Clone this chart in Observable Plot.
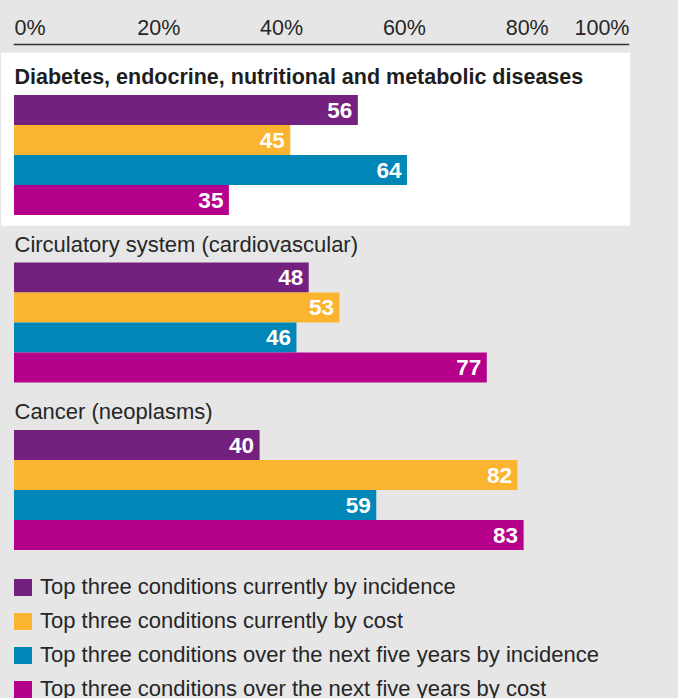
<!DOCTYPE html>
<html><head><meta charset="utf-8">
<script src="https://cdn.jsdelivr.net/npm/d3@7"></script>
<script src="https://cdn.jsdelivr.net/npm/@observablehq/plot@0.6"></script>
<style>
html,body{margin:0;padding:0;background:#e6e6e6;}
#chart{width:678px;font-family:"Liberation Sans",Arial,sans-serif;}
#chart svg{display:block;}
.lg-swatches-columns .lg-swatch{height:34px !important;padding-bottom:0 !important;}
.lg-swatch svg{margin-right:8px !important;}
</style></head><body><div id="chart"></div>
<script>
const categories = [
  "Diabetes, endocrine, nutritional and metabolic diseases",
  "Circulatory system (cardiovascular)",
  "Cancer (neoplasms)"
];
const seriesNames = [
  "Top three conditions currently by incidence",
  "Top three conditions currently by cost",
  "Top three conditions over the next five years by incidence",
  "Top three conditions over the next five years by cost"
];
const seriesColors = ["#74207f", "#fbb430", "#0086b7", "#b4008a"];
const diabetesValues = [56, 45, 64, 35];
const circulatoryValues = [48, 53, 46, 77];
const cancerValues = [40, 82, 59, 83];
const xTicks = [0, 20, 40, 60, 80, 100];

const valuesByCategory = [diabetesValues, circulatoryValues, cancerValues];
const data = categories.flatMap((c, i) =>
  seriesNames.map((s, j) => ({category: c, series: s, value: valuesByCategory[i][j]}))
);

const FONT = '"Liberation Sans", Arial, sans-serif';
const TEXT = "#262626";

const axisPlot = Plot.plot({
  width: 678, height: 52,
  marginLeft: 14, marginRight: 50, marginTop: 44, marginBottom: 7,
  style: {background: "transparent", fontFamily: FONT, fontSize: "21.5px", color: TEXT, overflow: "visible"},
  x: {domain: [0, 100], axis: null},
  y: {axis: null},
  marks: [
    Plot.axisX({ticks: xTicks.slice(0, -1), anchor: "top", tickSize: 0, tickPadding: 10,
      textAnchor: "start", tickFormat: d => d + "%", fontSize: 21.5, fill: TEXT}),
    Plot.axisX({ticks: xTicks.slice(-1), anchor: "top", tickSize: 0, tickPadding: 10,
      textAnchor: "end", dx: 1, tickFormat: d => d + "%", fontSize: 21.5, fill: TEXT}),
    Plot.frame({anchor: "top", stroke: "#333", strokeWidth: 1.5})
  ]
});

const mainPlot = Plot.plot({
  width: 678, height: 518,
  marginLeft: 14, marginRight: 50, marginTop: 3, marginBottom: 12.5,
  style: {background: "transparent", fontFamily: FONT, overflow: "visible"},
  facet: {marginTop: 0, marginBottom: 0, marginLeft: 0, marginRight: 0},
  x: {domain: [0, 100], axis: null},
  fy: {domain: categories, paddingInner: 0, paddingOuter: 0, round: false, axis: null},
  y: {domain: seriesNames, paddingInner: 0, paddingOuter: 0, round: false, insetTop: 40, insetBottom: 7.5, axis: null},
  color: {domain: seriesNames, range: seriesColors},
  marks: [
    Plot.rect(categories.slice(0, 1), {fy: d => d, fill: "white",
      insetTop: -2.3, insetBottom: -3.2, insetLeft: -13, insetRight: -2}),
    Plot.barX(data, {fy: "category", y: "series", x: "value", fill: "series"}),
    Plot.text(data, {fy: "category", y: "series", x: "value", text: d => String(d.value),
      textAnchor: "end", dx: -6, fill: "white", fontWeight: "bold", fontSize: 22.5}),
    Plot.text(categories.slice(0, 1), {fy: d => d, text: d => d, frameAnchor: "top-left",
      textAnchor: "start", lineAnchor: "bottom", dy: 28.5, fontSize: 21.5, fontWeight: "bold", fill: "#1e1e1e"}),
    Plot.text(categories.slice(1), {fy: d => d, text: d => d, frameAnchor: "top-left",
      textAnchor: "start", lineAnchor: "bottom", dy: 28.5, fontSize: 22, fill: TEXT})
  ]
});

const legend = Plot.legend({
  color: {domain: seriesNames, range: seriesColors},
  columns: 1, swatchWidth: 18, swatchHeight: 17, className: "lg",
  style: {fontFamily: FONT, fontSize: "22px", color: TEXT, marginLeft: "14px", background: "transparent"}
});

const root = document.getElementById("chart");
root.append(axisPlot, mainPlot, legend);
</script>
</body></html>
